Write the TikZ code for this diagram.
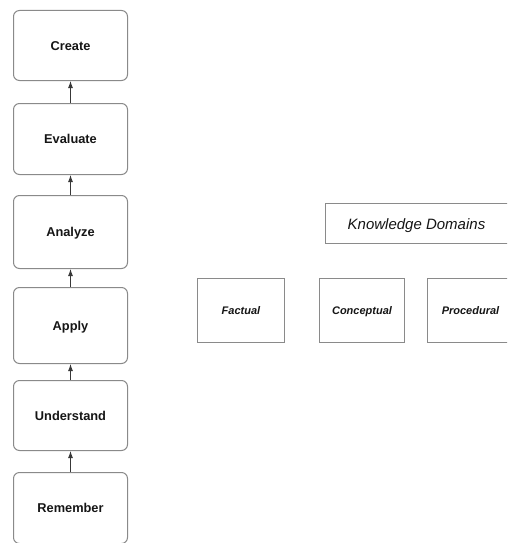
\documentclass[tikz,border=0pt]{standalone}
\usepackage{fontspec}
\setmainfont{Liberation Sans}
\usetikzlibrary{arrows.meta}
\definecolor{edge}{HTML}{8A8A8A}
\definecolor{ink}{HTML}{151515}
\tikzset{
  level/.style={draw=edge, line width=1pt, rounded corners=6pt, minimum width=114pt,
    font=\fontsize{12.8}{15}\selectfont\bfseries, text=ink, anchor=north west, inner sep=0pt,
    text height=9.6pt, text depth=0pt},
  kindbox/.style={draw=edge, line width=1pt, font=\fontsize{11}{13}\selectfont\bfseries\itshape,
    text=ink, anchor=north west, inner sep=0pt, text height=8pt, text depth=0pt},
  titlebox/.style={draw=edge, line width=1pt, font=\fontsize{15}{18}\selectfont\itshape,
    text=ink, anchor=north west, inner sep=0pt, text height=11pt, text depth=0pt},
  link/.style={draw=ink!85, line width=0.9pt, -{Latex[length=7pt,width=5pt]}}
}
\begin{document}
\begin{tikzpicture}[x=1pt,y=-1pt]
  \useasboundingbox (0,0) rectangle (507,543);
  \begin{scope}
    \clip (0,0) rectangle (507,543);
    % cognitive process levels, bottom to top
    \node[level, minimum height=70pt] (create)     at (13,10)  {Create};
    \node[level, minimum height=71pt] (evaluate)   at (13,103) {Evaluate};
    \node[level, minimum height=73pt] (analyze)    at (13,195) {Analyze};
    \node[level, minimum height=76pt] (apply)      at (13,287) {Apply};
    \node[level, minimum height=70pt] (understand) at (13,380) {Understand};
    \node[level, minimum height=71pt] (remember)   at (13,472) {Remember};
    \draw[link] (remember.north)   -- (understand.south);
    \draw[link] (understand.north) -- (apply.south);
    \draw[link] (apply.north)      -- (analyze.south);
    \draw[link] (analyze.north)    -- (evaluate.south);
    \draw[link] (evaluate.north)   -- (create.south);
    % knowledge dimension
    \node[titlebox, minimum width=184pt, minimum height=40pt] (kd) at (325,203) {\hspace*{-2pt}Knowledge Domains};
    \node[kindbox, minimum width=87pt, minimum height=64pt] (factual)    at (197,278) {Factual};
    \node[kindbox, minimum width=85pt, minimum height=64pt] (conceptual) at (319,278) {Conceptual};
    \node[kindbox, minimum width=86pt, minimum height=64pt] (procedural) at (427,278) {Procedural};
  \end{scope}
\end{tikzpicture}
\end{document}
